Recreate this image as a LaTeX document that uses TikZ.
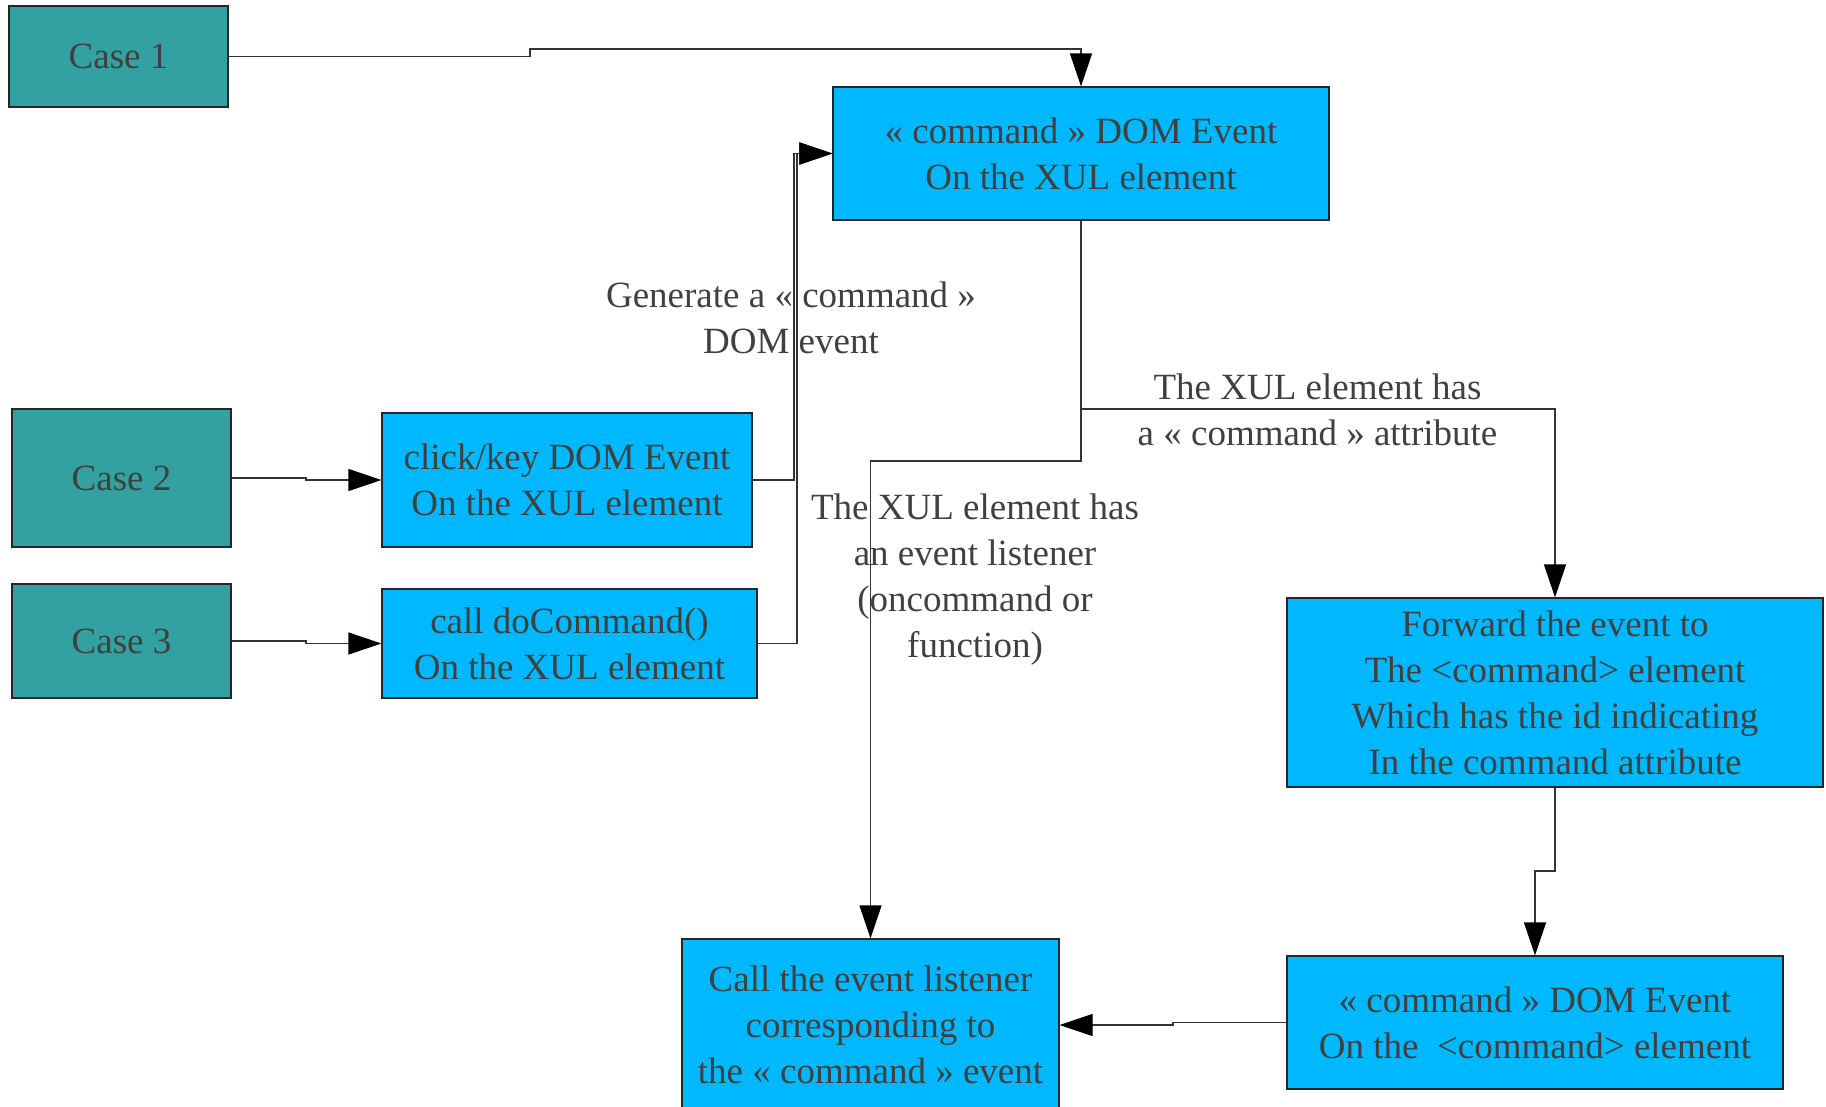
\documentclass[tikz,border=0pt]{standalone}
\usepackage{fontspec}
\setmainfont{Liberation Serif}
\usetikzlibrary{arrows.meta}
\definecolor{caseteal}{RGB}{51,161,161}
\definecolor{eventblue}{RGB}{0,184,255}
\definecolor{textgrey}{RGB}{64,64,64}
\begin{document}
\begin{tikzpicture}[
    x=1pt,y=-1pt,
    every node/.style={font=\fontsize{37}{46}\selectfont,text=textgrey,align=center,inner sep=0pt},
    casebox/.style={draw=black!85,fill=caseteal,line width=1.2pt},
    eventbox/.style={draw=black!85,fill=eventblue,line width=1.2pt},
    arrow/.style={draw=black!80,line width=1.2pt,-{Triangle[length=33pt,width=22pt,fill=black,color=black]}}
  ]
  \useasboundingbox (0,0) rectangle (1826,1106);
  % the three cases
  \node[casebox,minimum width=219pt,minimum height=101pt] (case1) at (118.5,56.5) {Case 1};
  \node[casebox,minimum width=219pt,minimum height=138pt] (case2) at (121.5,478) {Case 2};
  \node[casebox,minimum width=219pt,minimum height=114pt] (case3) at (121.5,641) {Case 3};
  % events
  \node[eventbox,minimum width=496pt,minimum height=133pt] (xulcmd) at (1081,153.5)
      {« command » DOM Event\\On the XUL element};
  \node[eventbox,minimum width=370pt,minimum height=134pt] (click) at (567,480)
      {click/key DOM Event\\On the XUL element};
  \node[eventbox,minimum width=375pt,minimum height=109pt] (docmd) at (569.5,643.5)
      {call doCommand()\\On the XUL element};
  \node[eventbox,minimum width=536pt,minimum height=189pt] (forward) at (1555,692.5)
      {Forward the event to\\The <command> element\\Which has the id indicating\\In the command attribute};
  \node[eventbox,minimum width=496pt,minimum height=133pt] (elemcmd) at (1535,1022.5)
      {« command » DOM Event\\On the\ \ <command> element};
  \node[eventbox,minimum width=377pt,minimum height=172pt] (listener) at (870.5,1025)
      {Call the event listener\\corresponding to\\the « command » event};
  % connectors
  \coordinate (split) at (1081,409);
  \draw[arrow] (case1.east) -| (530,49) -| (xulcmd.north);
  \draw[arrow] (case2.east) -| (306,480) -- (click.west);
  \draw[arrow] (case3.east) -| (306,643.5) -- (docmd.west);
  \draw[arrow] (click.east) -| (794,153.5) -- (xulcmd.west);
  \draw[arrow] (docmd.east) -| (797,153.5) -- (xulcmd.west);
  \draw[arrow] (xulcmd.south) -- (split) -| (forward.north);
  \draw[arrow] (split) |- (870.5,461) -- (listener.north);
  \draw[arrow] (forward.south) |- (1535,871) -- (elemcmd.north);
  \draw[arrow] (elemcmd.west) -| (1173,1025) -- (listener.east);
  % labels
  \node (genlabel) at (791,318) {Generate a « command »\\DOM event};
  \node (attrlabel) at (1317.5,410) {The XUL element has\\a « command » attribute};
  \node (listlabel) at (975,580) {The XUL element has\\an event listener\\(oncommand or\\function)};
\end{tikzpicture}
\end{document}
